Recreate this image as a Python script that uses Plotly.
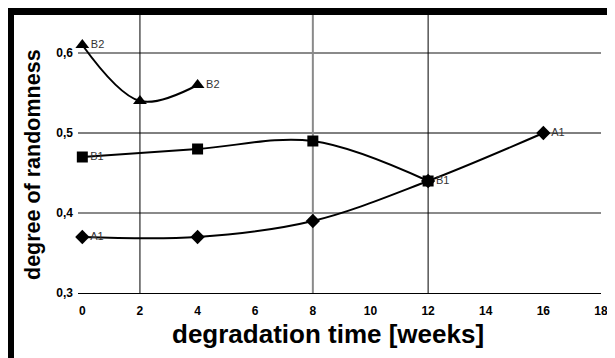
import plotly.graph_objects as go

# ---- data ----
a1_x = [0, 4, 8, 12, 16]
a1_y = [0.37, 0.37, 0.39, 0.44, 0.50]
a1_text = ["A1", "", "", "", "A1"]

b1_x = [0, 4, 8, 12]
b1_y = [0.47, 0.48, 0.49, 0.44]
b1_text = ["B1", "", "", "B1"]

b2_x = [0, 2, 4]
b2_y = [0.61, 0.54, 0.56]
b2_text = ["B2", "", "B2"]

x_ticks = [0, 2, 4, 6, 8, 10, 12, 14, 16, 18]
y_ticks = [0.3, 0.4, 0.5, 0.6]
y_ticklabels = ["0,3", "0,4", "0,5", "0,6"]

x_title = "degradation time [weeks]"
y_title = "degree of randomness"

# ---- layout geometry (pixels, page coords; page body has an 8px margin) ----
OFF = 8
W, H = 615 - OFF, 358 - OFF
L, R_EDGE, T, B_EDGE = 78 - OFF, 601 - OFF, 15 - OFF, 293 - OFF
pw, ph = R_EDGE - L, B_EDGE - T

def px_x(p):
    return (p - OFF - L) / pw

def px_y(p):
    return (B_EDGE - (p - OFF)) / ph

FONT = "Liberation Sans, Arial, sans-serif"

fig = go.Figure()

def add_series(xs, ys, txt, symbol, size):
    fig.add_trace(go.Scatter(
        x=xs, y=ys, mode="lines+markers+text", text=txt,
        textposition="middle right",
        textfont=dict(family=FONT, size=11, color="#333333"),
        line=dict(color="black", width=2, shape="spline", smoothing=1),
        marker=dict(symbol=symbol, size=size, color="black"),
        showlegend=False, cliponaxis=False,
    ))

add_series(a1_x, a1_y, a1_text, "diamond", 11)
add_series(b1_x, b1_y, b1_text, "square", 11)
add_series(b2_x, b2_y, b2_text, "triangle-up", 12)

shapes = []
# frame
shapes.append(dict(type="rect", xref="paper", yref="paper",
                   x0=px_x(0), x1=px_x(640), y0=px_y(400), y1=px_y(0),
                   fillcolor="black", line=dict(width=0), layer="below"))
shapes.append(dict(type="rect", xref="paper", yref="paper",
                   x0=px_x(14), x1=px_x(612), y0=px_y(400), y1=px_y(15),
                   fillcolor="white", line=dict(width=0), layer="below"))
# horizontal gridlines
for yv, col, w in [(0.4, "#8a8a8a", 2), (0.5, "black", 1), (0.6, "#8a8a8a", 2)]:
    shapes.append(dict(type="line", xref="paper", yref="y", x0=0, x1=1, y0=yv, y1=yv,
                       line=dict(color=col, width=w), layer="below"))
# vertical gridlines
for xv, col, w in [(2, "black", 1), (8, "#8a8a8a", 2), (12, "black", 1)]:
    shapes.append(dict(type="line", xref="x", yref="paper", x0=xv, x1=xv, y0=0, y1=1,
                       line=dict(color=col, width=w), layer="below"))

annotations = [
    dict(text=x_title, xref="paper", yref="paper", x=px_x(328), y=px_y(334),
         showarrow=False, xanchor="center", yanchor="middle",
         font=dict(family=FONT, size=26, color="black", weight="bold")),
    dict(text=y_title, xref="paper", yref="paper", x=px_x(33), y=px_y(165),
         showarrow=False, xanchor="center", yanchor="middle", textangle=-90,
         font=dict(family=FONT, size=21.5, color="black", weight="bold")),
]

fig.update_layout(
    width=W, height=H,
    margin=dict(l=L, r=W - R_EDGE, t=T, b=H - B_EDGE, pad=0),
    paper_bgcolor="#d3d3d3", plot_bgcolor="rgba(0,0,0,0)",
    shapes=shapes, annotations=annotations,
    xaxis=dict(range=[-0.15, 18], tickvals=x_ticks, showgrid=False, zeroline=False,
               showline=True, linecolor="black", linewidth=1, ticks="",
               tickfont=dict(family=FONT, size=12, color="black", weight="bold"),
               ticklabelstandoff=7),
    yaxis=dict(range=[0.3, 0.6475], tickvals=y_ticks, ticktext=y_ticklabels,
               showgrid=False, zeroline=False, showline=False, ticks="",
               tickfont=dict(family=FONT, size=12, color="black", weight="bold"),
               ticklabelstandoff=4),
)

fig.write_html("out.html")
